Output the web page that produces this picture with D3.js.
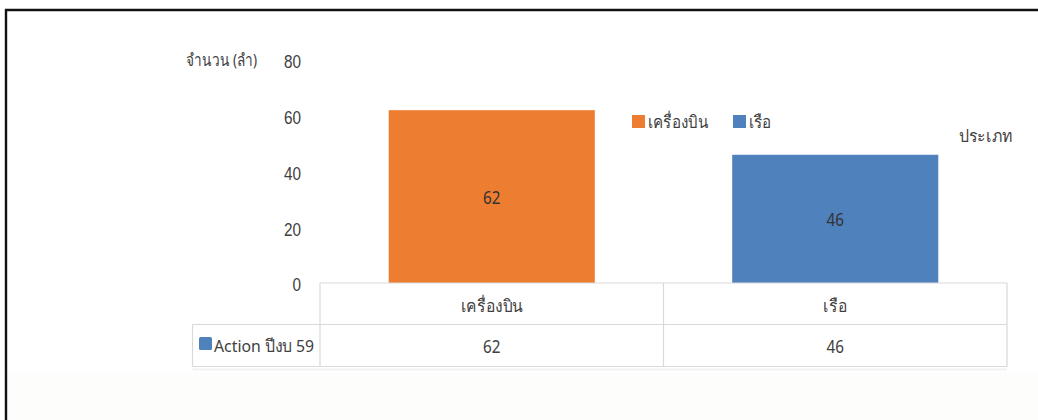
<!DOCTYPE html>
<html>
<head>
<meta charset="utf-8">
<script src="https://cdn.jsdelivr.net/npm/d3@7/dist/d3.min.js"></script>
<style>
  html, body { margin: 0; padding: 0; background: #ffffff; }
  svg { display: block; font-family: "Noto Sans", "DejaVu Sans", sans-serif; }
</style>
</head>
<body>
<svg id="chart" width="1038" height="420"></svg>
<script>
// Vessel counts by type
const categories = ["เครื่องบิน", "เรือ"];
const seriesName = "Action ปีงบ 59";
const values = [62, 46];
const yTicks = [0, 20, 40, 60, 80];
const yTitle = "จำนวน (ลำ)";
const xTitle = "ประเภท";
const barColors = ["#ED7D31", "#4F81BD"];
const seriesColor = "#4F81BD";

const svg = d3.select("#chart");
const textColor = "#404040";
const gridColor = "#d9d9d9";

// narrow text: placed at (x, y) and squeezed horizontally
function label(txt, x, y, opts = {}) {
  return svg.append("text")
    .attr("transform", `translate(${x},${y}) scale(${opts.sx || 0.9},1)`)
    .attr("text-anchor", opts.anchor || "start")
    .attr("fill", opts.fill || textColor)
    .style("font-size", (opts.size || 17) + "px")
    .text(txt);
}

// page frame
svg.append("rect").attr("x", 0).attr("y", 0).attr("width", 1038).attr("height", 420).attr("fill", "#ffffff");
svg.append("rect").attr("x", 6).attr("y", 372).attr("width", 1032).attr("height", 48).attr("fill", "#fdfdfb");
svg.append("path").attr("d", "M6,420 V10 H1038").attr("fill", "none").attr("stroke", "#111").attr("stroke-width", 2.4);

// scales
const x = d3.scaleBand().domain(categories).range([320, 1007]).paddingInner(0).paddingOuter(0);
const y = d3.scaleLinear().domain([0, 80]).range([283, 60]);
const barW = x.bandwidth() * 0.6;

// y axis labels only
const yAxis = d3.axisLeft(y).tickValues(yTicks).tickSize(0).tickPadding(0);
const gy = svg.append("g").attr("transform", "translate(301,2)").call(yAxis);
gy.select(".domain").remove();
gy.selectAll("text").attr("fill", textColor).attr("transform", "scale(0.85,1)")
  .style("font-size", "18px").style("font-family", "inherit");

label(yTitle, 257, 66, { anchor: "end", sx: 0.8 });

// bars
svg.selectAll("rect.bar").data(values).join("rect").attr("class", "bar")
  .attr("x", (d, i) => x(categories[i]) + (x.bandwidth() - barW) / 2)
  .attr("y", d => y(d))
  .attr("width", barW)
  .attr("height", d => y(0) - y(d))
  .attr("fill", (d, i) => barColors[i]);

// labels inside bars
values.forEach((d, i) => {
  label(d, x(categories[i]) + x.bandwidth() / 2, (y(d) + y(0)) / 2 + 7, { anchor: "middle", size: 18, sx: 0.85, fill: "#333" });
});

// legend
const legend = [{ name: categories[0], color: barColors[0], x: 632 }, { name: categories[1], color: barColors[1], x: 733 }];
legend.forEach(l => {
  svg.append("rect").attr("x", l.x).attr("y", 115).attr("width", 13).attr("height", 13).attr("fill", l.color);
  label(l.name, l.x + 16, 128, { sx: 0.89 });
});
label(xTitle, 1013, 142, { anchor: "end", sx: 0.93 });

// data table under the plot
const rowTop = 283, rowMid = 324.5, rowBot = 366.5, seriesLeft = 192.5;
const t = svg.append("g").attr("fill", "none").attr("stroke", gridColor).attr("stroke-width", 1.2);
t.append("line").attr("x1", x.range()[0]).attr("x2", x.range()[1]).attr("y1", rowTop).attr("y2", rowTop);
t.append("line").attr("x1", seriesLeft).attr("x2", x.range()[1]).attr("y1", rowMid).attr("y2", rowMid);
t.append("line").attr("x1", seriesLeft).attr("x2", x.range()[1]).attr("y1", rowBot).attr("y2", rowBot);
t.append("line").attr("x1", seriesLeft).attr("x2", seriesLeft).attr("y1", rowMid).attr("y2", rowBot);
[x.range()[0], x(categories[1]), x.range()[1]].forEach(v => {
  t.append("line").attr("x1", v).attr("x2", v).attr("y1", rowTop).attr("y2", rowBot);
});
svg.append("line").attr("x1", seriesLeft).attr("x2", x.range()[1]).attr("y1", rowBot + 3).attr("y2", rowBot + 3)
  .attr("stroke", "#f1f1f1").attr("stroke-width", 2);

categories.forEach(c => {
  label(c, x(c) + x.bandwidth() / 2, 312, { anchor: "middle", sx: 0.92 });
});
values.forEach((d, i) => {
  label(d, x(categories[i]) + x.bandwidth() / 2, 353, { anchor: "middle", size: 18, sx: 0.85 });
});

svg.append("rect").attr("x", 199).attr("y", 337).attr("width", 13).attr("height", 13).attr("rx", 1.5).attr("fill", seriesColor);
label(seriesName, 214, 352, { sx: 0.93 });
</script>
</body>
</html>
